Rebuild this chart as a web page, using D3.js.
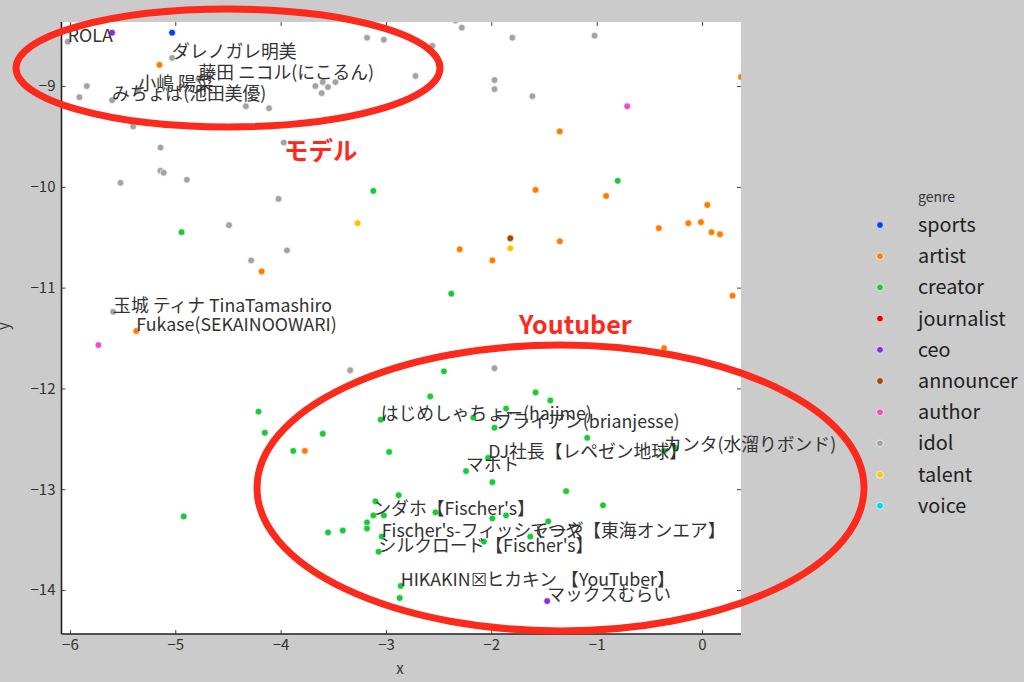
<!DOCTYPE html>
<html><head><meta charset="utf-8">
<script src="https://cdn.jsdelivr.net/npm/d3@7"></script>
<style>
html,body{margin:0;padding:0;background:#cbcbcb;}
svg{display:block;}
</style></head>
<body>
<svg id="chart" width="1024" height="682"></svg>
<script>
// ---- data ----
const genres = ["sports","artist","creator","journalist","ceo","announcer","author","idol","talent","voice"];
const genreColors = ["#023eff","#ff7c00","#1ac938","#e8000b","#8b2be2","#9f4800","#f14cc1","#a3a3a3","#ffc400","#00d7ff"];

const idolPts = [[-6.02,-8.56],[-5.84,-9.00],[-5.91,-9.11],[-5.60,-9.14],[-5.40,-9.40],[-5.03,-8.72],[-5.35,-9.04],[-4.78,-8.93],
  [-4.33,-9.20],[-4.11,-9.22],[-3.18,-8.52],[-3.02,-8.54],[-2.56,-8.60],[-2.72,-8.90],[-3.67,-9.00],[-3.60,-8.96],[-3.55,-9.01],
  [-3.48,-8.96],[-3.61,-9.07],[-2.28,-8.42],[-2.34,-8.35],[-1.80,-8.52],[-1.02,-8.50],[-1.97,-8.94],[-1.97,-9.03],[-1.61,-9.10],
  [-3.97,-9.56],[-5.14,-9.61],[-5.14,-9.84],[-5.11,-9.86],[-5.52,-9.96],[-4.89,-9.93],[-4.02,-10.12],[-4.49,-10.38],[-3.94,-10.63],
  [-4.28,-10.73],[-5.59,-11.24],[-3.34,-11.82],[-1.97,-11.80]];
const sportsPts = [[-5.03,-8.47]];
const ceoPts = [[-5.60,-8.47],[-1.47,-14.11]];
const authorPts = [[-0.71,-9.20],[-5.73,-11.57]];
const talentPts = [[-3.27,-10.36],[-1.82,-10.61]];
const announcerPts = [[-1.82,-10.51]];
const journalistPts = [];
const voicePts = [];
const artistPts = [[-5.15,-8.79],[0.37,-8.91],[-1.35,-9.45],[-1.58,-10.03],[-0.91,-10.09],[0.05,-10.18],[-0.41,-10.41],[-0.13,-10.36],
  [-0.01,-10.35],[0.09,-10.45],[0.17,-10.47],[-2.30,-10.62],[-1.99,-10.73],[-1.35,-10.54],[0.29,-11.08],[-4.18,-10.84],[-5.37,-11.43],
  [-0.36,-11.60],[-3.77,-12.62]];
const creatorPts = [[-0.80,-9.94],[-3.12,-10.04],[-4.94,-10.45],[-2.38,-11.06],[-2.45,-11.83],[-2.58,-12.08],[-1.58,-12.04],[-1.44,-12.12],
  [-1.86,-12.20],[-2.17,-12.29],[-1.97,-12.39],[-3.05,-12.31],[-2.97,-12.63],[-1.09,-12.49],[-0.36,-12.62],[-0.25,-12.59],[-4.21,-12.23],
  [-4.15,-12.44],[-3.60,-12.45],[-3.88,-12.62],[-2.03,-12.69],[-2.24,-12.82],[-1.99,-12.93],[-1.29,-13.02],[-0.94,-13.16],[-2.88,-13.06],
  [-3.10,-13.12],[-3.12,-13.26],[-3.02,-13.26],[-3.18,-13.33],[-3.18,-13.39],[-3.04,-13.47],[-3.07,-13.62],[-3.41,-13.41],[-3.55,-13.43],
  [-2.53,-13.23],[-1.99,-13.29],[-1.86,-13.26],[-1.46,-13.32],[-1.63,-13.47],[-2.07,-13.52],[-2.86,-13.96],[-2.87,-14.08],[-4.92,-13.27]];

const nameLabels = [[-6.02,-8.56,"ROLA"],[-5.03,-8.72,"ダレノガレ明美"],[-4.78,-8.93,"藤田 ニコル(にこるん)"],[-5.35,-9.04,"小嶋 陽菜"],
  [-5.60,-9.14,"みちょぱ(池田美優)"],[-5.59,-11.24,"玉城 ティナ TinaTamashiro"],[-5.37,-11.43,"Fukase(SEKAINOOWARI)"],
  [-3.05,-12.31,"はじめしゃちょー(hajime)"],[-1.97,-12.39,"ブライアン(brianjesse)"],[-0.36,-12.62,"カンタ(水溜りボンド)"],
  [-2.03,-12.69,"DJ社長【レペゼン地球】"],[-2.24,-12.82,"マホト"],[-3.12,-13.26,"ンダホ【Fischer's】"],
  [-3.04,-13.47,"Fischer's-フィッシャーズ"],[-1.63,-13.47,"てつや【東海オンエア】"],[-3.07,-13.62,"シルクロード【Fischer's】"],
  [-2.86,-13.96,"HIKAKIN☒ヒカキン 【YouTuber】"],[-1.47,-14.11,"マックスむらい"]];

const xTicks = [-6,-5,-4,-3,-2,-1,0];
const yTicks = [-9,-10,-11,-12,-13,-14];
const xDomain = [-6.08, 0.37];
const yDomain = [-14.437, -8.364];

// ---- drawing ----
const svg = d3.select("#chart");
const font = "'Noto Sans CJK JP','Noto Sans',sans-serif";
const L=61.5, R=741, T=22, B=634;
const x = d3.scaleLinear().domain(xDomain).range([L,R]);
const y = d3.scaleLinear().domain(yDomain).range([B,T]);
const color = d3.scaleOrdinal().domain(genres).range(genreColors);

svg.append("rect").attr("width",1024).attr("height",682).attr("fill","#cbcbcb");
svg.append("defs").append("clipPath").attr("id","clip")
  .append("rect").attr("x",L).attr("y",T).attr("width",R-L).attr("height",B-T);
svg.append("rect").attr("x",L).attr("y",T).attr("width",R-L).attr("height",B-T).attr("fill","#ffffff");

const fmt = d3.format("d");
function styleAxis(g){
  g.select(".domain").attr("stroke","none");
  g.selectAll(".tick line").attr("stroke","#444").attr("stroke-width",1);
  g.selectAll(".tick text").attr("fill","#333").style("font-family",font).style("font-size","15px");
}
svg.append("g").attr("transform",`translate(0,${B})`)
  .call(d3.axisBottom(x).tickValues(xTicks).tickFormat(fmt).tickSize(-4).tickSizeOuter(0).tickPadding(5)).call(styleAxis);
svg.append("g").attr("transform",`translate(${L},0)`)
  .call(d3.axisLeft(y).tickValues(yTicks).tickFormat(fmt).tickSize(-4).tickSizeOuter(0).tickPadding(6)).call(styleAxis);
svg.append("g").attr("transform",`translate(0,${T})`)
  .call(d3.axisTop(x).tickValues(xTicks).tickFormat("").tickSize(-4).tickSizeOuter(0)).call(styleAxis);
svg.append("g").attr("transform",`translate(${R},0)`)
  .call(d3.axisRight(y).tickValues(yTicks).tickFormat("").tickSize(-4).tickSizeOuter(0)).call(styleAxis);

// spines
svg.append("line").attr("x1",L).attr("x2",L).attr("y1",T).attr("y2",B).attr("stroke","#222").attr("stroke-width",1.6);
svg.append("line").attr("x1",L).attr("x2",R).attr("y1",B).attr("y2",B).attr("stroke","#222").attr("stroke-width",1.6);

// points
const allSets = {sports:sportsPts, artist:artistPts, creator:creatorPts, journalist:journalistPts, ceo:ceoPts,
  announcer:announcerPts, author:authorPts, idol:idolPts, talent:talentPts, voice:voicePts};
const order = ["idol","artist","creator","talent","announcer","author","ceo","sports","journalist","voice"];
const pg = svg.append("g").attr("clip-path","url(#clip)");
order.forEach(gname=>{
  pg.selectAll(null).data(allSets[gname]).enter().append("circle")
    .attr("cx",d=>x(d[0])).attr("cy",d=>y(d[1])).attr("r",3.4)
    .attr("fill",color(gname)).attr("stroke","#fff").attr("stroke-width",0.7);
});

// labels
svg.append("g").selectAll("text").data(nameLabels).enter().append("text")
  .attr("x",d=>x(d[0])).attr("y",d=>y(d[1])).text(d=>d[2])
  .attr("fill","#333").style("font-family",font).style("font-size","17.8px");

// axis titles
svg.append("text").attr("x",400).attr("y",674).attr("text-anchor","middle").text("x")
  .attr("fill","#333").style("font-family",font).style("font-size","15px");
svg.append("text").attr("transform","translate(9,326) rotate(-90)").attr("text-anchor","middle").text("y")
  .attr("fill","#333").style("font-family",font).style("font-size","15px");

// legend
const lg = svg.append("g");
lg.append("text").attr("x",918).attr("y",202).text("genre").attr("fill","#333")
  .style("font-family",font).style("font-size","14px");
genres.forEach((g,i)=>{
  const cy = 225 + i*31.2;
  lg.append("circle").attr("cx",880).attr("cy",cy).attr("r",3.4).attr("fill",color(g)).attr("stroke","#fff").attr("stroke-width",0.7);
  lg.append("text").attr("x",918).attr("y",cy).attr("dy","0.35em").text(g).attr("fill","#222")
    .style("font-family",font).style("font-size","19.8px");
});

// annotations
const red = "#fb2a1c";
svg.append("ellipse").attr("cx",228).attr("cy",68).attr("rx",212).attr("ry",59)
  .attr("fill","none").attr("stroke",red).attr("stroke-width",7);
svg.append("ellipse").attr("cx",560.5).attr("cy",488).attr("rx",303.5).attr("ry",143)
  .attr("fill","none").attr("stroke",red).attr("stroke-width",7);
svg.append("text").attr("x",284).attr("y",160).text("モデル").attr("fill",red)
  .style("font-family",font).style("font-weight","bold").style("font-size","24.5px");
svg.append("text").attr("x",519).attr("y",334).text("Youtuber").attr("fill",red)
  .style("font-family",font).style("font-weight","bold").style("font-size","25px");
</script>
</body></html>
